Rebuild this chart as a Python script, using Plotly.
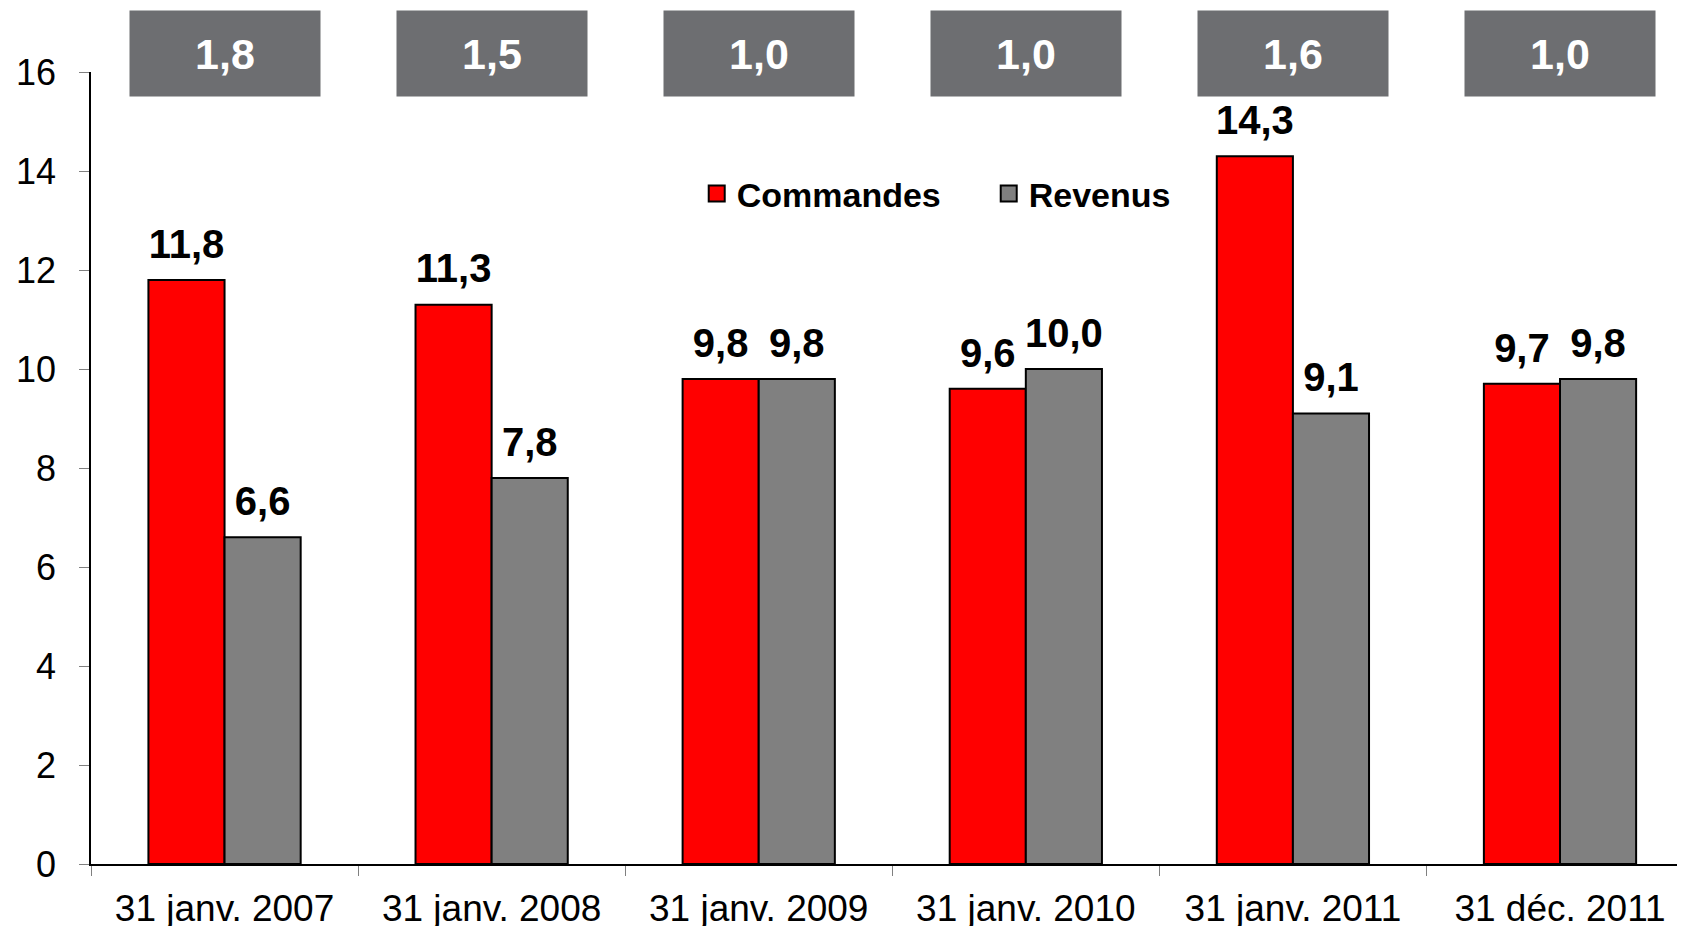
import plotly.graph_objects as go

# data
categories = ["31 janv. 2007", "31 janv. 2008", "31 janv. 2009",
              "31 janv. 2010", "31 janv. 2011", "31 déc. 2011"]
commandes = [11.8, 11.3, 9.8, 9.6, 14.3, 9.7]
revenus = [6.6, 7.8, 9.8, 10.0, 9.1, 9.8]
ratio = [1.8, 1.5, 1.0, 1.0, 1.6, 1.0]

FONT = "Arial, Liberation Sans, sans-serif"
RED = "#ff0000"
GREY = "#808080"
BOX = "#6d6e71"

series = [("Commandes", commandes, RED, "c"), ("Revenus", revenus, GREY, "r")]

fig = go.Figure()

# bars
for name, vals, col, grp in series:
    fig.add_trace(go.Bar(
        x=categories, y=vals, name=name, offsetgroup=grp,
        marker=dict(color=col, line=dict(color="black", width=2)),
        showlegend=False,
    ))

# value labels: invisible markers grouped like the bars, text sits above them
for name, vals, col, grp in series:
    fig.add_trace(go.Scatter(
        x=categories, y=vals, mode="markers+text", offsetgroup=grp,
        marker=dict(size=18, opacity=0),
        texttemplate="<b>%{y:.1f}</b>", textposition="top center",
        textfont=dict(family=FONT, size=40, color="black"),
        cliponaxis=False, showlegend=False, hoverinfo="skip",
    ))

# legend entries (bigger squares than the default bar symbol)
for name, vals, col, grp in series:
    fig.add_trace(go.Scatter(
        x=[None], y=[None], mode="markers", name=name, offsetgroup=grp,
        marker=dict(symbol="square", size=17, color=col,
                    line=dict(color="black", width=2)),
    ))

# grey ratio boxes above each group
for cat, r in zip(categories, ratio):
    fig.add_annotation(
        x=cat, xref="x", y=1.0234, yref="paper",
        text="<b>" + f"{r:.1f}".replace(".", ",") + "</b>",
        showarrow=False, bgcolor=BOX, width=186, height=81, borderpad=2,
        font=dict(family=FONT, size=43, color="white"),
        xanchor="center", yanchor="middle",
    )

# page body adds 8px on top/left, margins compensate for it
fig.update_layout(
    width=1685, height=926,
    margin=dict(l=76, r=8, t=64, b=70),
    plot_bgcolor="white", paper_bgcolor="white",
    separators=", ",
    barmode="group", bargap=0.43, bargroupgap=0,
    scattermode="group", scattergap=0.43,
    font=dict(family=FONT, color="black"),
    legend=dict(
        orientation="h", x=0.380, xanchor="left", y=0.846, yanchor="middle",
        font=dict(family=FONT, size=34, color="black", weight="bold"),
        entrywidth=247, entrywidthmode="pixels",
        bgcolor="rgba(0,0,0,0)",
    ),
    xaxis=dict(
        range=[-0.5, 5.468], showline=True, linecolor="black", linewidth=1.5,
        ticks="outside", tickson="boundaries", ticklen=10, tickcolor=GREY,
        tickfont=dict(family=FONT, size=37, color="black"),
        ticklabelstandoff=11, showgrid=False, automargin=False,
    ),
    yaxis=dict(
        range=[0, 16], dtick=2, showline=True, linecolor="black", linewidth=1.5,
        ticks="outside", ticklen=10, tickcolor=GREY,
        tickfont=dict(family=FONT, size=36, color="black"),
        ticklabelstandoff=16, showgrid=False, zeroline=False,
    ),
)

fig.write_html("out.html")
